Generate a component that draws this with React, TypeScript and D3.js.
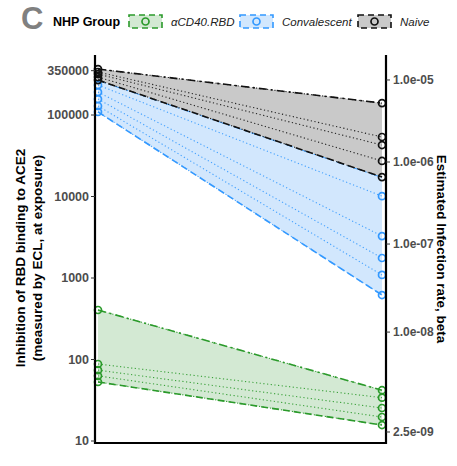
import * as d3 from 'd3';
import React from 'react';

// NHP groups, legend order
const groups = ['αCD40.RBD', 'Convalescent', 'Naive'];

// inhibition values per animal, at exposure (left) and later (right)
const cd40Start = [405, 88, 74, 63, 53];
const cd40End = [42, 34, 25.4, 19.7, 15.7];
const convStart = [233000, 191000, 157000, 129000, 109000];
const convEnd = [10100, 3270, 1760, 1090, 618];
const naiveStart = [366000, 337000, 318000, 292000, 268000];
const naiveEnd = [140000, 53700, 42800, 27300, 17300];

// band edges [upper start, upper end, lower start, lower end]
const cd40Band = [405, 42, 53, 15.7];
const convBand = [268000, 17300, 109000, 618];
const naiveBand = [366000, 140000, 268000, 17300];

const leftTicks = [10, 100, 1000, 10000, 100000, 350000];
// right axis labels with the left-axis value they sit at
const rightLabels = ['1.0e-05', '1.0e-06', '1.0e-07', '1.0e-08', '2.5e-09'];
const rightAt = [269000, 26500, 2610, 217, 12.9];

const colors = { line: ['#2b9a2b', '#3399ff', '#111111'], fill: ['#d3e9d3', '#d2e7fd', '#c9c9c9'] };

const W = 457, H = 466;
const axis = { left: 95, right: 386, top: 55, bottom: 443 };
const font = 'Liberation Sans, Arial, sans-serif';

const App = () => {
  const y = d3.scaleLog().domain([10, 100000]).range([441, 115]);
  const x = d3.scaleLinear().domain([0, 1]).range([98, 382]);

  const series = [
    { starts: cd40Start, ends: cd40End, band: cd40Band },
    { starts: convStart, ends: convEnd, band: convBand },
    { starts: naiveStart, ends: naiveEnd, band: naiveBand },
  ];
  const line = d3.line<number>().x((d, i) => x(i)).y(d => y(d));
  const area = d3.area<number[]>().x((d, i) => x(i)).y0(d => y(d[1])).y1(d => y(d[0]));

  // draw order: blue, green, then black on top
  const order = [1, 0, 2];

  return (
    <svg width={W} height={H} style={{ position: 'absolute', left: 0, top: 0, fontFamily: font }}>
      <rect width={W} height={H} fill="white" />
      {order.map(g => {
        const s = series[g];
        const b = s.band;
        return (
          <g key={groups[g]}>
            <path d={area([[b[0], b[2]], [b[1], b[3]]])!} fill={colors.fill[g]} />
            {s.starts.map((v, i) => (
              <path key={i} d={line([v, s.ends[i]])!} fill="none" stroke={colors.line[g]}
                strokeWidth={1.1} strokeDasharray="1.2,2.5" opacity={0.9} />
            ))}
            <path d={line([b[0], b[1]])!} fill="none" stroke={colors.line[g]} strokeWidth={1.6}
              strokeDasharray="8,4,2,4" />
            <path d={line([b[2], b[3]])!} fill="none" stroke={colors.line[g]} strokeWidth={1.6}
              strokeDasharray="7,4" />
          </g>
        );
      })}
      {order.map(g => {
        const s = series[g];
        return (
          <g key={'pts' + g}>
            {s.starts.map((v, i) => (
              <g key={i}>
                <circle cx={x(0)} cy={y(v)} r={3.5} fill="none" stroke={colors.line[g]} strokeWidth={1.7} />
                <circle cx={x(1)} cy={y(s.ends[i])} r={3.5} fill="none" stroke={colors.line[g]} strokeWidth={1.7} />
              </g>
            ))}
          </g>
        );
      })}

      {/* axes */}
      <line x1={axis.left} x2={axis.left} y1={axis.top} y2={axis.bottom + 1} stroke="black" strokeWidth={2.2} />
      <line x1={axis.right} x2={axis.right} y1={axis.top} y2={axis.bottom + 1} stroke="black" strokeWidth={2.2} />
      <line x1={axis.left - 1} x2={axis.right + 1} y1={axis.bottom} y2={axis.bottom} stroke="black" strokeWidth={2.2} />
      {leftTicks.map(t => (
        <g key={t} transform={`translate(0,${y(t)})`}>
          <line x1={axis.left - 4} x2={axis.left} stroke="#333" strokeWidth={1} />
          <text x={axis.left - 6} dy="0.35em" textAnchor="end" fontSize={12.5} fontWeight="bold" fill="#4d4d4d">{t}</text>
        </g>
      ))}
      {rightLabels.map((l, i) => (
        <g key={l} transform={`translate(0,${y(rightAt[i])})`}>
          <line x1={axis.right} x2={axis.right + 4} stroke="#333" strokeWidth={1} />
          <text x={axis.right + 7} dy="0.35em" fontSize={12} fontWeight="bold" fill="#4d4d4d">{l}</text>
        </g>
      ))}

      {/* axis titles */}
      <text transform="translate(25,258) rotate(-90)" textAnchor="middle" fontSize={13.5} fontWeight="bold">
        Inhibition of RBD binding to ACE2
      </text>
      <text transform="translate(42,258) rotate(-90)" textAnchor="middle" fontSize={13.5} fontWeight="bold">
        (measured by ECL, at exposure)
      </text>
      <text transform="translate(437,249) rotate(90)" textAnchor="middle" fontSize={13.5} fontWeight="bold">
        Estimated Infection rate, beta
      </text>

      {/* panel letter and legend */}
      <text x={21} y={29} fontSize={31} fontWeight="bold" fill="#808080">C</text>
      <text x={53} y={26} fontSize={12.5} fontWeight="bold">NHP Group</text>
      {groups.map((g, i) => {
        const kx = [129, 240, 358][i];
        return (
          <g key={g}>
            <rect x={kx} y={15} width={33} height={13} fill={colors.fill[i]} stroke={colors.line[i]}
              strokeWidth={1.6} strokeDasharray="6,4" />
            <circle cx={kx + 16.5} cy={21.5} r={3.5} fill="none" stroke={colors.line[i]} strokeWidth={1.7} />
            <text x={kx + 42} y={26} fontSize={11.5} fontStyle="italic" fill="#222">{g}</text>
          </g>
        );
      })}
    </svg>
  );
};

export default App;
